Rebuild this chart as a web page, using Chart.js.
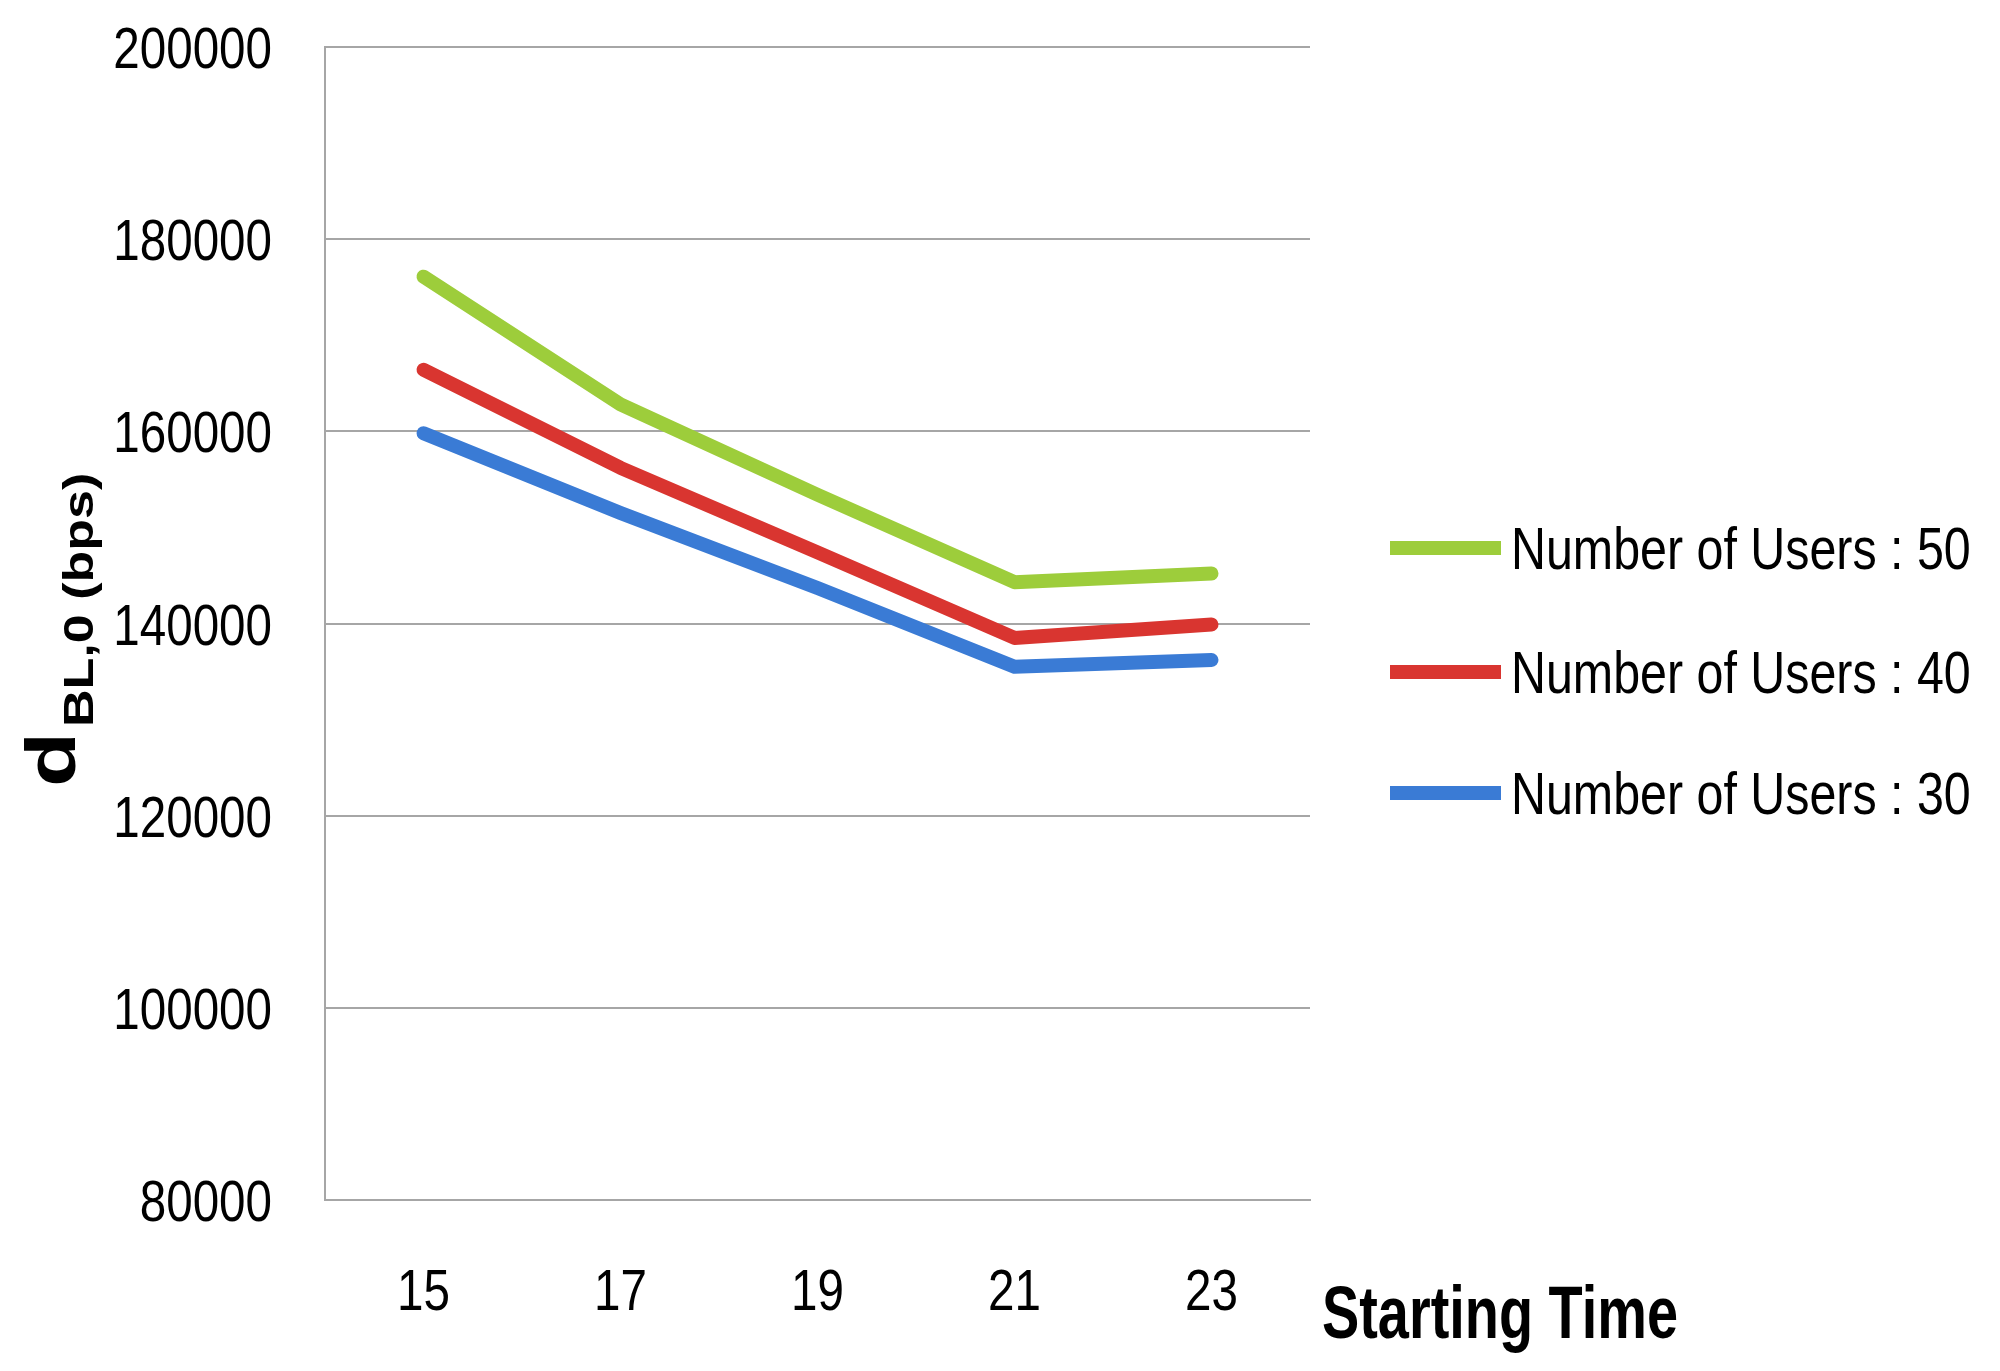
<!DOCTYPE html>
<html>
<head>
<meta charset="utf-8">
<script src="https://cdn.jsdelivr.net/npm/chart.js@4.4.1/dist/chart.umd.min.js"></script>
<style>
  html, body { margin: 0; padding: 0; background: #fff; }
  #wrap { width: 2000px; height: 1371px; position: relative; }
</style>
</head>
<body>
<div id="wrap"><canvas id="chart"></canvas></div>
<script>
// Data
const startTimes = ['15', '17', '19', '21', '23'];
const users50 = [176100, 162800, 153400, 144300, 145200];
const users40 = [166400, 156200, 147400, 138500, 139900];
const users30 = [159800, 151500, 143700, 135500, 136200];
const seriesLabels = ['Number of Users : 50', 'Number of Users : 40', 'Number of Users : 30'];
const yTicks = [80000, 100000, 120000, 140000, 160000, 180000, 200000];

const colors = ['#9dcd3b', '#d93530', '#3a7bd5'];
const sans = "'Liberation Sans', Arial, sans-serif";

// the original uses a narrow Calibri-like face, so squeeze text horizontally
function squeezed(ctx, text, x, y, font, sx, align) {
    ctx.save();
    ctx.font = font;
    ctx.textAlign = align || 'left';
    ctx.textBaseline = 'alphabetic';
    ctx.scale(sx, 1);
    ctx.fillText(text, x / sx, y);
    ctx.restore();
}

// rotated text reading bottom to top, squeezed along screen x
function rotated(ctx, text, x, y, font, sx) {
    ctx.save();
    ctx.font = font;
    ctx.textBaseline = 'alphabetic';
    ctx.translate(0, y);
    ctx.scale(sx, 1);
    ctx.rotate(-Math.PI / 2);
    ctx.fillText(text, 0, x / sx);
    ctx.restore();
}

const decorPlugin = {
    id: 'decor',
    afterDraw(chart) {
        const ctx = chart.ctx;
        const xs = chart.scales.x, ys = chart.scales.y;
        ctx.save();
        ctx.fillStyle = '#000';

        // tick labels
        const tickFont = '58px ' + sans;
        yTicks.forEach(v => {
            squeezed(ctx, String(v), 272, ys.getPixelForValue(v) + 21, tickFont, 0.82, 'right');
        });
        startTimes.forEach((t, i) => {
            squeezed(ctx, t, xs.getPixelForValue(i), 1310, tickFont, 0.82, 'center');
        });

        // y title: d with subscript
        rotated(ctx, 'd', 75, 787, 'bold 90px ' + sans, 0.78);
        rotated(ctx, 'BL,0 (bps)', 93, 727, 'bold 52px ' + sans, 0.8);

        // x title to the right of the plot
        squeezed(ctx, 'Starting Time', 1322, 1338, 'bold 74px ' + sans, 0.755);

        // legend
        const rows = [548, 672, 793];
        chart.data.datasets.forEach((ds, i) => {
            const y = rows[i];
            ctx.fillStyle = ds.borderColor;
            ctx.fillRect(1390, y - 7, 111, 14);
            ctx.fillStyle = '#000';
            squeezed(ctx, ds.label, 1511, y + 21, '59px ' + sans, 0.82);
        });
        ctx.restore();
    }
};

const ctx = document.getElementById('chart').getContext('2d');
const chart = new Chart(ctx, {
    type: 'line',
    data: {
        labels: startTimes,
        datasets: [users50, users40, users30].map((vals, i) => ({
            label: seriesLabels[i],
            data: vals,
            borderColor: colors[i],
            backgroundColor: colors[i],
            borderWidth: 14,
            borderCapStyle: 'round',
            borderJoinStyle: 'round',
            pointRadius: 0,
            tension: 0,
            fill: false
        }))
    },
    options: {
        responsive: true,
        maintainAspectRatio: false,
        animation: false,
        layout: { padding: { left: 0, top: 47, right: 690, bottom: 0 } },
        plugins: {
            legend: { display: false },
            tooltip: { enabled: false }
        },
        scales: {
            x: {
                offset: true,
                grid: { display: false, drawTicks: false },
                border: { display: true, color: '#a6a6a6', width: 2 },
                ticks: { display: false },
                afterFit(scale) { scale.height = 171; }
            },
            y: {
                min: 80000,
                max: 200000,
                afterBuildTicks(scale) {
                    scale.ticks = yTicks.map(v => ({ value: v }));
                },
                grid: { color: '#a6a6a6', lineWidth: 2, drawTicks: false },
                border: { display: true, color: '#a6a6a6', width: 2 },
                ticks: { display: false },
                afterFit(scale) { scale.width = 325; }
            }
        }
    },
    plugins: [decorPlugin]
});
</script>
</body>
</html>
